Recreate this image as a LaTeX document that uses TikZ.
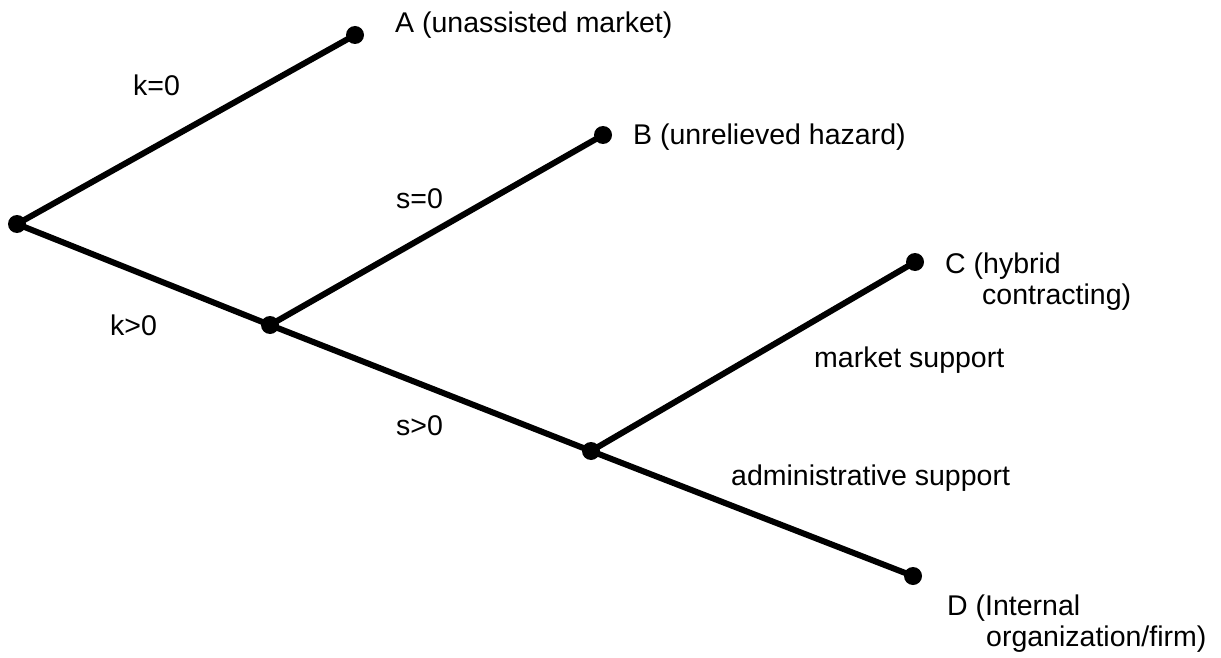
\documentclass[tikz,border=0pt]{standalone}
\usepackage{fontspec}
\setmainfont{Liberation Sans}
\begin{document}
\begin{tikzpicture}[x=1pt,y=-1pt,
  dot/.style={circle,fill=black,inner sep=0pt,minimum size=18pt},
  branch/.style={line width=6pt,black},
  lbl/.style={anchor=base west,inner sep=0pt,font=\fontsize{28.5}{31}\selectfont},
  mlbl/.style={lbl,align=left}]
\useasboundingbox (0,0) rectangle (1221,658);
\node[dot] (R) at (17,224) {};
\node[dot] (A) at (355,35) {};
\node[dot] (B) at (603,135) {};
\node[dot] (N2) at (270,325) {};
\node[dot] (C) at (915,262) {};
\node[dot] (N3) at (591,451) {};
\node[dot] (D) at (913,576) {};
\draw[branch] (R.center) -- (A.center);
\draw[branch] (R.center) -- (N2.center);
\draw[branch] (N2.center) -- (B.center);
\draw[branch] (N2.center) -- (N3.center);
\draw[branch] (N3.center) -- (C.center);
\draw[branch] (N3.center) -- (D.center);
\node[lbl] (Alab) at (395,33) {A (unassisted market)};
\node[lbl] (Blab) at (633,145) {B (unrelieved hazard)};
\node[mlbl] (Clab) at (945,304) {C (hybrid\\\hspace*{37pt}contracting)};
\node[mlbl] (Dlab) at (947,646) {D (Internal\\\hspace*{39pt}organization/firm)};
\node[lbl] (k0) at (133,96) {k=0};
\node[lbl] (s0) at (396,208) {s=0};
\node[lbl] (kp) at (110,335) {k>0};
\node[lbl] (sp) at (396,435) {s>0};
\node[lbl] (ms) at (814,367) {market support};
\node[lbl] (as) at (731,485) {administrative support};
\end{tikzpicture}
\end{document}
